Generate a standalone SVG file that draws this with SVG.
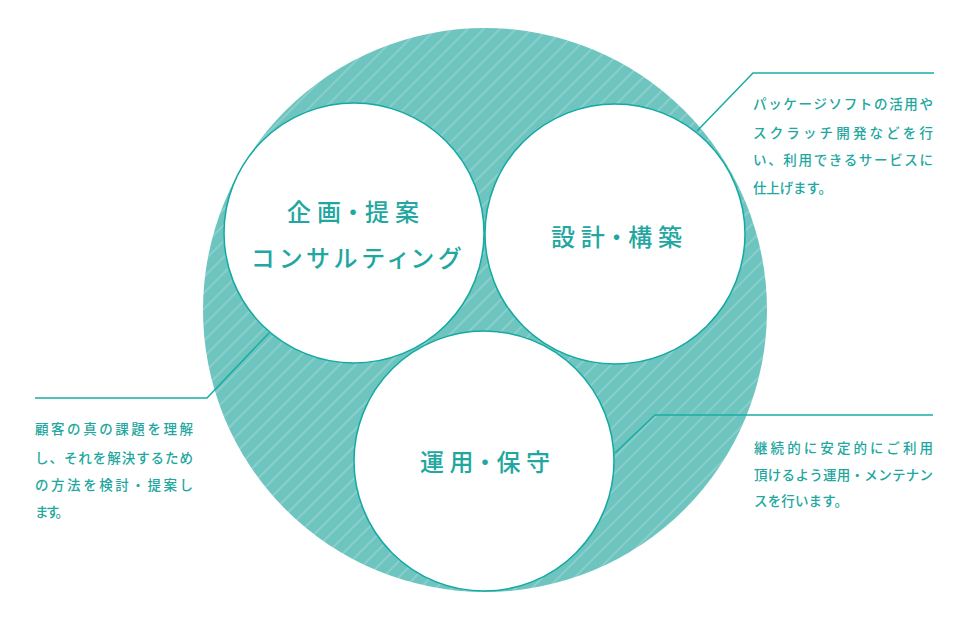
<svg xmlns="http://www.w3.org/2000/svg" width="968" height="620" viewBox="0 0 968 620">
<style>
.t{font-family:"Noto Sans CJK JP","Noto Sans",sans-serif;fill:#22a7a0;dominant-baseline:central}
.lab{font-size:24px;font-weight:500;font-feature-settings:"palt"}
.d{font-size:13.5px;font-weight:500}
.c{fill:#fff;stroke:#14a9a2;stroke-width:1.5}
.ln{fill:none;stroke:#1aaca5;stroke-width:1.5}
</style>
<defs>
<pattern id="stripe" width="11.3" height="11.3" patternUnits="userSpaceOnUse" patternTransform="rotate(45)">
<rect width="11.3" height="11.3" fill="#6ec4bf"/>
<line x1="1" y1="0" x2="1" y2="11.3" stroke="#ffffff" stroke-opacity="0.4" stroke-width="0.9"/>
</pattern>
</defs>
<g id="outer"><circle cx="485" cy="310" r="282" fill="url(#stripe)"/></g>
<g id="connectors">
<polyline class="ln" points="697,131 753,73 934,73"/>
<polyline class="ln" points="269,333 207,398 35,398"/>
<polyline class="ln" points="615,453 655,415 933,415"/>
</g>
<g id="node-plan">
<circle class="c" cx="354" cy="233" r="130"/>
<text class="t lab" x="287" y="210" textLength="132" lengthAdjust="spacing">企画・提案</text>
<text class="t lab" x="252" y="256" textLength="208" lengthAdjust="spacing">コンサルティング</text>
</g>
<g id="node-build">
<circle class="c" cx="615" cy="234" r="130"/>
<text class="t lab" x="551" y="235" textLength="131" lengthAdjust="spacing">設計・構築</text>
</g>
<g id="node-ops">
<circle class="c" cx="484" cy="461" r="130"/>
<text class="t lab" x="420" y="460" textLength="130" lengthAdjust="spacing">運用・保守</text>
</g>
<g id="desc-build">
<text class="t d" x="753" y="103" textLength="180" lengthAdjust="spacing">パッケージソフトの活用や</text>
<text class="t d" x="753" y="132" textLength="180" lengthAdjust="spacing">スクラッチ開発などを行</text>
<text class="t d" x="753" y="159" textLength="180" lengthAdjust="spacing">い、利用できるサービスに</text>
<text class="t d" x="753" y="187" textLength="79" lengthAdjust="spacing">仕上げます。</text>
</g>
<g id="desc-plan">
<text class="t d" x="35" y="428" textLength="158" lengthAdjust="spacing">顧客の真の課題を理解</text>
<text class="t d" x="35" y="457" textLength="158" lengthAdjust="spacing">し、それを解決するため</text>
<text class="t d" x="35" y="484" textLength="158" lengthAdjust="spacing">の方法を検討・提案し</text>
<text class="t d" x="35" y="511" textLength="34" lengthAdjust="spacing">ます。</text>
</g>
<g id="desc-ops">
<text class="t d" x="754" y="447" textLength="179" lengthAdjust="spacing">継続的に安定的にご利用</text>
<text class="t d" x="754" y="474" textLength="179" lengthAdjust="spacing">頂けるよう運用・メンテナン</text>
<text class="t d" x="754" y="500" textLength="94" lengthAdjust="spacing">スを行います。</text>
</g>
</svg>
